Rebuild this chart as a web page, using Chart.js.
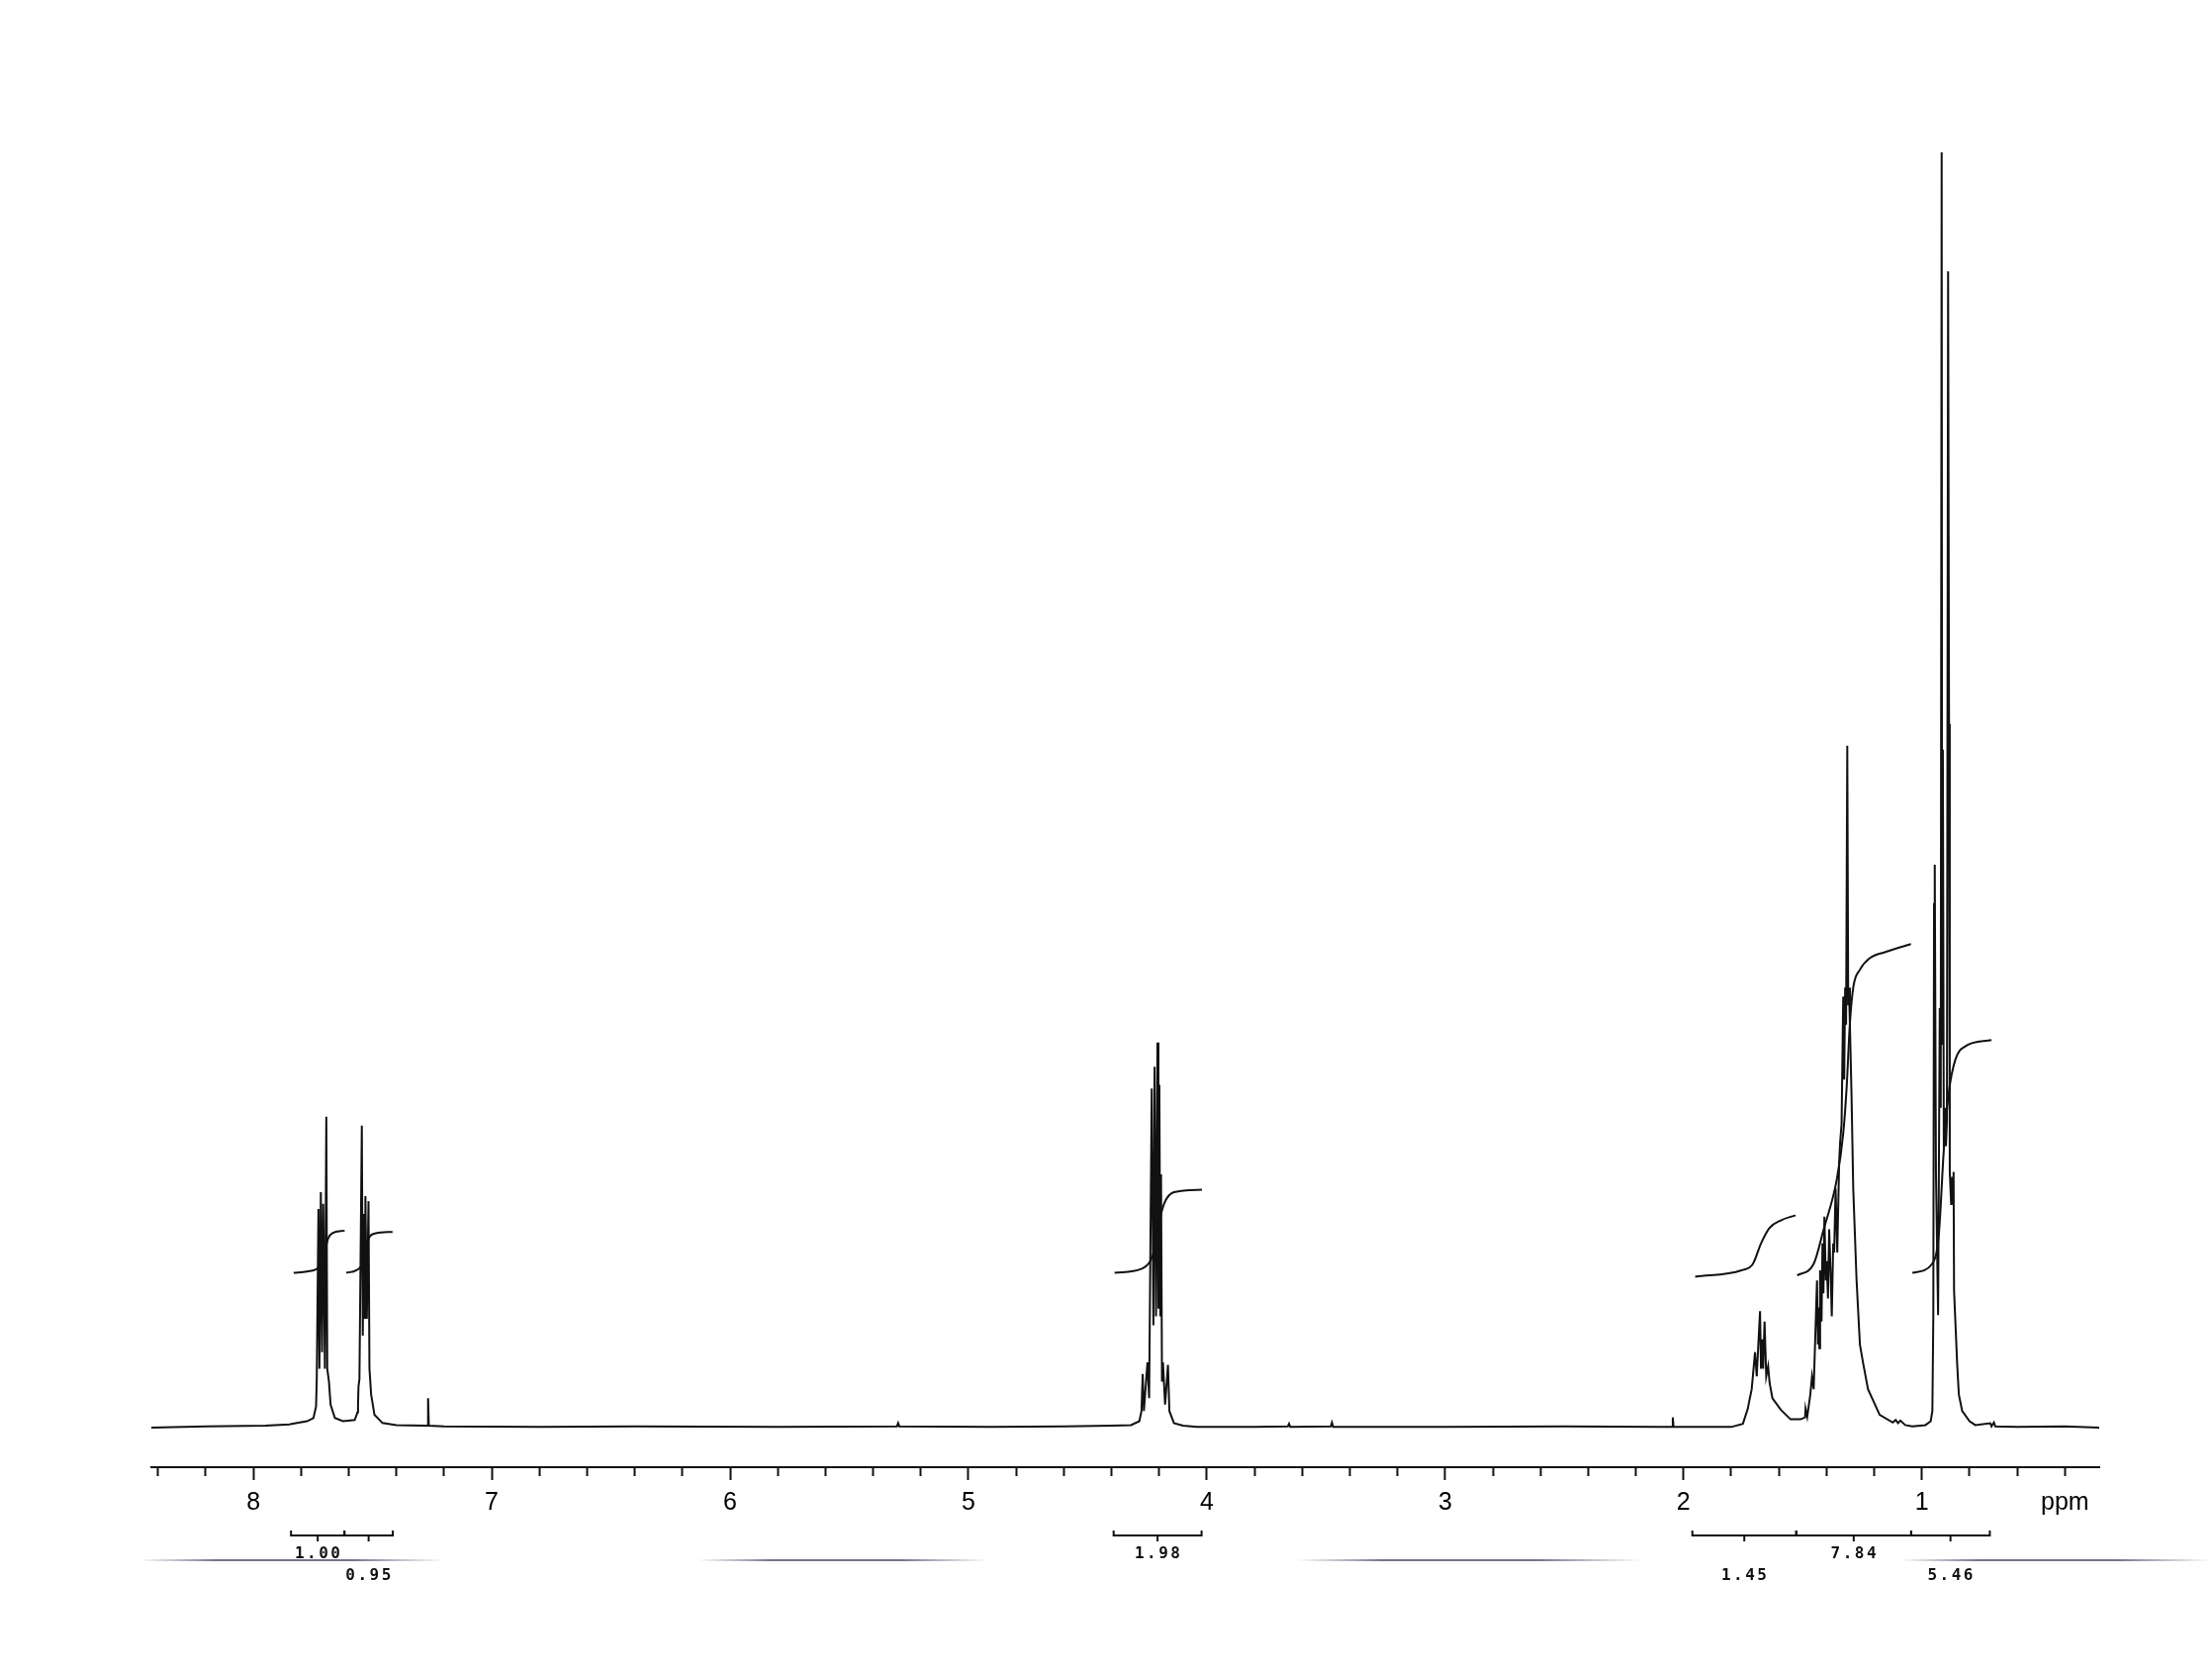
<!DOCTYPE html>
<html>
<head>
<meta charset="utf-8">
<title>1H NMR spectrum</title>
<script src="https://cdn.jsdelivr.net/npm/chart.js@4.4.1/dist/chart.umd.min.js"></script>
<style>
  html, body { margin: 0; padding: 0; background: #fff; }
  canvas { display: block; }
</style>
</head>
<body>
<canvas id="nmr" width="2236" height="1690"></canvas>
<script>
"use strict";

// spectrum trace: shift in ppm, intensity in % of the tallest line
const shiftPpm = [
  8.428, 8.20, 7.95, 7.85, 7.817, 7.775, 7.748, 7.737, 7.734, 7.727, 7.723, 7.717, 7.712, 7.707, 7.700, 7.694, 7.690,
  7.683, 7.676, 7.658, 7.624, 7.575, 7.563, 7.561, 7.559, 7.555, 7.545, 7.541, 7.536, 7.532, 7.530, 7.524, 7.517,
  7.513, 7.506, 7.492, 7.458, 7.40, 7.278, 7.270, 7.267, 7.264, 7.20, 6.80, 6.40, 5.80, 5.30, 5.295, 5.29, 4.90,
  4.60, 4.40, 4.318, 4.283, 4.274, 4.269, 4.264, 4.249, 4.242, 4.231, 4.224, 4.219, 4.213, 4.207, 4.203, 4.199,
  4.195, 4.192, 4.188, 4.184, 4.175, 4.163, 4.157, 4.138, 4.10, 4.041, 3.80, 3.66, 3.655, 3.65, 3.48, 3.475, 3.47,
  3.00, 2.50, 2.10, 2.048, 2.045, 2.042, 1.90, 1.800, 1.751, 1.730, 1.724, 1.714, 1.700, 1.693, 1.679, 1.675,
  1.670, 1.666, 1.660, 1.653, 1.645, 1.639, 1.627, 1.592, 1.551, 1.509, 1.490, 1.488, 1.481, 1.468, 1.461, 1.454,
  1.440, 1.436, 1.434, 1.430, 1.427, 1.421, 1.417, 1.413, 1.409, 1.403, 1.399, 1.394, 1.389, 1.382, 1.378, 1.372,
  1.368, 1.362, 1.355, 1.347, 1.343, 1.337, 1.330, 1.326, 1.322, 1.318, 1.313, 1.309, 1.306, 1.302, 1.295, 1.288,
  1.274, 1.260, 1.247, 1.226, 1.177, 1.122, 1.110, 1.100, 1.090, 1.070, 1.040, 0.985, 0.963, 0.956, 0.952, 0.949,
  0.947, 0.945, 0.941, 0.932, 0.925, 0.921, 0.917, 0.915, 0.912, 0.908, 0.903, 0.899, 0.895, 0.890, 0.886, 0.883,
  0.877, 0.873, 0.869, 0.867, 0.865, 0.852, 0.845, 0.831, 0.800, 0.776, 0.713, 0.708, 0.698, 0.692, 0.60, 0.40, 0.256
];
const intensity = [
  0, 0.1, 0.15, 0.25, 0.36, 0.5, 0.75, 1.65, 3.9, 17.1, 4.6, 18.4, 5.9, 17.5, 4.6, 24.3, 4.6,
  3.6, 1.8, 0.75, 0.5, 0.6, 1.2, 1.8, 3.2, 3.8, 23.6, 7.2, 16.7, 8.5, 18.1, 8.5, 17.7,
  4.6, 2.6, 1.0, 0.36, 0.2, 0.15, 0.15, 2.3, 0.15, 0.1, 0.05, 0.1, 0.05, 0.1, 0.35, 0.1, 0.05,
  0.1, 0.15, 0.2, 0.5, 1.3, 4.2, 1.3, 5.1, 2.3, 26.5, 8.0, 28.2, 8.7, 30.1, 9.3, 26.8,
  8.7, 19.8, 3.6, 5.1, 1.8, 4.9, 1.3, 0.36, 0.15, 0.05, 0.05, 0.1, 0.3, 0.05, 0.1, 0.4, 0.05,
  0.05, 0.1, 0.05, 0.05, 0.8, 0.05, 0.05, 0.05, 0.3, 1.5, 2.1, 3.0, 5.9, 4.0, 9.1, 4.6,
  6.9, 4.6, 8.3, 4.0, 4.8, 3.5, 2.3, 1.4, 0.65, 0.65, 0.8, 1.5, 0.85, 2.6, 4.0, 3.0,
  11.5, 6.5, 9.4, 6.2, 12.3, 8.3, 14.4, 10.5, 16.5, 11.5, 13.0, 10.1, 15.5, 11.5, 8.7, 14.4,
  13.7, 18.7, 13.7, 20.8, 22.3, 23.7, 33.7, 27.2, 34.4, 31.5, 53.3, 33.0, 34.4, 31.5, 25.8, 18.7,
  11.5, 6.5, 5.1, 3.0, 1.0, 0.4, 0.6, 0.35, 0.55, 0.2, 0.1, 0.2, 0.5, 1.3, 8.8, 41.0,
  25.0, 44.0, 20.0, 8.8, 32.8, 25.0, 99.7, 30.0, 53.0, 21.9, 25.0, 22.0, 24.0, 90.4, 55.0, 20.0,
  17.4, 19.6, 17.5, 20.0, 10.7, 5.0, 2.6, 1.3, 0.5, 0.2, 0.35, 0.1, 0.4, 0.1, 0.05, 0.1, 0
];

// integral curves [ppm, height]
const integral1 = [[7.831, 12.1], [7.776, 12.2], [7.723, 12.6], [7.705, 13.4], [7.686, 14.8], [7.668, 15.2], [7.617, 15.4]];
const integral2 = [[7.610, 12.1], [7.548, 12.6], [7.531, 13.8], [7.513, 14.9], [7.485, 15.2], [7.416, 15.3]];
const integral3 = [[4.387, 12.1], [4.276, 12.4], [4.235, 13.1], [4.215, 14.3], [4.200, 16.0], [4.179, 17.5], [4.138, 18.4], [4.020, 18.6]];
const integral4 = [[1.951, 11.8], [1.757, 12.3], [1.709, 12.8], [1.675, 14.4], [1.640, 15.6], [1.592, 16.2], [1.530, 16.6]];
const integral5 = [[1.523, 11.9], [1.454, 12.8], [1.412, 15.5], [1.357, 19.4], [1.330, 23.0], [1.316, 26.5], [1.302, 31.6],
  [1.288, 34.4], [1.260, 35.8], [1.219, 36.7], [1.150, 37.2], [1.046, 37.8]];
const integral6 = [[1.040, 12.1], [0.957, 12.8], [0.929, 15.1], [0.908, 21.7], [0.887, 26.2], [0.859, 28.8], [0.818, 29.8], [0.708, 30.3]];

// integration regions below the axis
const integralRegions = [[7.842, 7.618], [7.618, 7.415], [4.391, 4.022], [1.963, 1.527], [1.527, 1.045], [1.045, 0.715]];
const integralValues = ["1.00", "0.95", "1.98", "1.45", "7.84", "5.46"];
const integralRow = [0, 1, 0, 1, 0, 1];

const majorTicks = [8, 7, 6, 5, 4, 3, 2, 1];
const unitLabel = "ppm";
const unitTickAt = 0.4;

const INK = "#111";

function toPoints(pairs) {
  return pairs.map(function (p) { return { x: p[0], y: p[1] }; });
}

let spectrum = shiftPpm.map(function (v, i) { return { x: v, y: intensity[i] }; });

let integralSets = [integral1, integral2, integral3, integral4, integral5, integral6].map(function (c) {
  return {
    data: toPoints(c),
    borderColor: INK,
    borderWidth: 2,
    pointRadius: 0,
    cubicInterpolationMode: "monotone",
    clip: false
  };
});

function isMajor(v) {
  return majorTicks.some(function (m) { return Math.abs(m - v) < 1e-6; });
}

const paperPlugin = {
  id: "paper",
  beforeDraw(chart) {
    let ctx = chart.ctx;
    ctx.save();
    ctx.fillStyle = "#fff";
    ctx.fillRect(0, 0, chart.width, chart.height);
    ctx.restore();
  },
  afterDraw(chart) {
    let ctx = chart.ctx;
    let xs = chart.scales.x;
    let base = chart.chartArea.bottom;

    // faint scanner streak under the integrals
    ctx.save();
    [[140, 450], [705, 1000], [1310, 1660], [1920, 2236]].forEach(function (s) {
      let g = ctx.createLinearGradient(s[0], 0, s[1], 0);
      g.addColorStop(0, "rgba(80,86,115,0)");
      g.addColorStop(0.25, "rgba(55,60,90,0.7)");
      g.addColorStop(0.7, "rgba(55,60,90,0.7)");
      g.addColorStop(1, "rgba(80,86,115,0)");
      ctx.strokeStyle = g;
      ctx.lineWidth = 2;
      ctx.beginPath();
      ctx.moveTo(s[0], base + 94);
      ctx.lineTo(s[1], base + 94);
      ctx.stroke();
    });
    ctx.restore();

    // integral brackets and values
    ctx.save();
    ctx.strokeStyle = INK;
    ctx.lineWidth = 2;
    ctx.fillStyle = INK;
    ctx.font = "bold 16px 'DejaVu Sans Mono'";
    ctx.letterSpacing = "2.5px";
    ctx.textAlign = "center";
    ctx.textBaseline = "middle";
    let yLine = base + 69;
    integralRegions.forEach(function (r, i) {
      let a = xs.getPixelForValue(r[0]);
      let b = xs.getPixelForValue(r[1]);
      let mid = (a + b) / 2;
      ctx.beginPath();
      ctx.moveTo(a, yLine - 5);
      ctx.lineTo(a, yLine);
      ctx.lineTo(b, yLine);
      ctx.lineTo(b, yLine - 5);
      ctx.moveTo(mid, yLine);
      ctx.lineTo(mid, yLine + 6);
      ctx.stroke();
      ctx.fillText(integralValues[i], mid + 1, base + (integralRow[i] ? 110 : 88));
    });
    ctx.restore();
  }
};

let myChart = new Chart(document.getElementById("nmr"), {
  type: "line",
  data: {
    datasets: [{
      data: spectrum,
      borderColor: INK,
      borderWidth: 2,
      pointRadius: 0,
      tension: 0,
      clip: false
    }].concat(integralSets)
  },
  options: {
    responsive: false,
    animation: false,
    devicePixelRatio: 1,
    layout: { padding: { left: 153, right: 114, top: 150, bottom: 0 } },
    plugins: { legend: { display: false }, tooltip: { enabled: false } },
    scales: {
      x: {
        type: "linear",
        reverse: true,
        min: 0.256,
        max: 8.428,
        afterFit: function (scale) { scale.height = 207; },
        afterBuildTicks: function (scale) {
          let t = [];
          for (let k = 84; k >= 4; k -= 2) t.push({ value: k / 10 });
          scale.ticks = t;
        },
        border: { display: true, color: INK, width: 2 },
        grid: {
          drawOnChartArea: false,
          drawTicks: true,
          tickLength: 13,
          tickWidth: 2,
          tickColor: INK,
          tickBorderDash: function (c) { return isMajor(c.tick.value) ? [] : [8, 40]; }
        },
        ticks: {
          autoSkip: false,
          maxRotation: 0,
          padding: 8,
          color: "#000",
          font: { family: "'Liberation Sans', Arial, sans-serif", size: 25 },
          callback: function (value) {
            if (isMajor(value)) return String(Math.round(value));
            if (Math.abs(value - unitTickAt) < 1e-6) return unitLabel;
            return "";
          }
        }
      },
      y: {
        display: false,
        min: -3.094,
        max: 100
      }
    }
  },
  plugins: [paperPlugin]
});
</script>
</body>
</html>
